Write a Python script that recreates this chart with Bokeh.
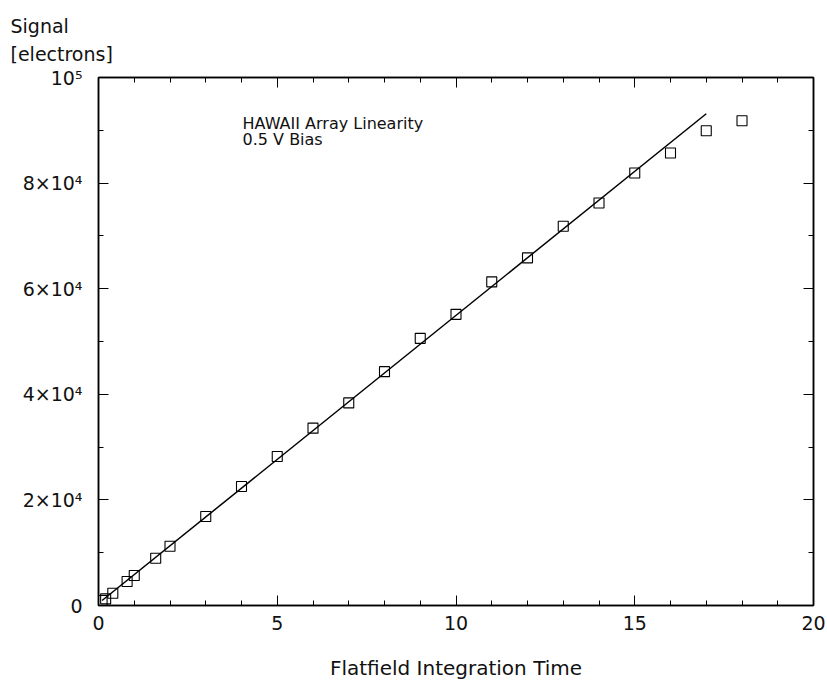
from bokeh.plotting import figure
from bokeh.models import (Range1d, SingleIntervalTicker, LinearAxis, Label,
                          CustomJSTickFormatter, Title)
from bokeh.embed import file_html
from bokeh.resources import INLINE

# ---- data ----
time_s = [0.1, 0.2, 0.4, 0.8, 1.0, 1.6, 2.0, 3, 4, 5, 6, 7, 8, 9, 10,
          11, 12, 13, 14, 15, 16, 17, 18]
signal_e = [950, 1260, 2330, 4540, 5670, 8940, 11210, 16850, 22550, 28220,
            33590, 38370, 44290, 50600, 55140, 61300, 65840, 71830, 76240,
            81910, 85690, 89920, 91810]
fit_x = [0.1, 17.0]
fit_y = [945, 93140]
y_tick_labels = {0: "0", 20000: "2×10⁴", 40000: "4×10⁴", 60000: "6×10⁴",
                 80000: "8×10⁴", 100000: "10⁵"}
title_lines = ["HAWAII Array Linearity", "0.5 V Bias"]
ylab_text = "Signal\n[electrons]"
xlab = "Flatfield Integration Time"

FONT = "DejaVu Sans"

p = figure(width=827, height=682, output_backend="svg", toolbar_location=None,
           x_range=Range1d(0, 20), y_range=Range1d(0, 100000),
           min_border_left=98, min_border_right=14, min_border_top=76,
           min_border_bottom=77)
p.xgrid.visible = False
p.ygrid.visible = False
p.outline_line_color = "black"
p.outline_line_width = 1.5
p.background_fill_color = "white"
p.border_fill_color = "white"

xt = SingleIntervalTicker(interval=5, num_minor_ticks=5)
yt = SingleIntervalTicker(interval=20000, num_minor_ticks=2)

def style_axis(ax):
    ax.axis_line_color = "black"
    ax.axis_line_width = 1.5
    ax.major_tick_in = 10
    ax.major_tick_out = 0
    ax.minor_tick_in = 5
    ax.minor_tick_out = 0
    ax.major_tick_line_color = "black"
    ax.minor_tick_line_color = "black"
    ax.major_label_text_font = FONT
    ax.major_label_text_color = "#111111"

xa = p.xaxis[0]
xa.ticker = xt
style_axis(xa)
xa.major_label_text_font_size = "19px"
xa.major_label_standoff = 10
xa.axis_label = xlab
xa.axis_label_text_font = FONT
xa.axis_label_text_font_size = "20px"
xa.axis_label_text_font_style = "normal"
xa.axis_label_standoff = 23
xa.axis_label_text_color = "#111111"

ya = p.yaxis[0]
ya.ticker = yt
style_axis(ya)
ya.major_label_text_font_size = "19px"
ya.major_label_standoff = 16
ya.major_label_overrides = y_tick_labels

blank = CustomJSTickFormatter(code="return ''")
top = LinearAxis(ticker=SingleIntervalTicker(interval=5, num_minor_ticks=5),
                 formatter=blank)
style_axis(top)
top.major_label_text_font_size = "0px"
top.major_label_standoff = 0
p.add_layout(top, "above")
right = LinearAxis(ticker=SingleIntervalTicker(interval=20000, num_minor_ticks=2),
                   formatter=blank)
style_axis(right)
right.major_label_text_font_size = "0px"
right.major_label_standoff = 0
p.add_layout(right, "right")

p.add_layout(Title(text=ylab_text, align="left", offset=-88,
                   text_font=FONT, text_font_size="19px",
                   text_font_style="normal", text_color="#111111",
                   text_line_height=1.3, standoff=24), "above")

p.line(fit_x, fit_y, line_color="black", line_width=1.5)
p.scatter(time_s, signal_e, marker="square", size=10, fill_color=None,
          line_color="black", line_width=1.1)

p.add_layout(Label(x=4.03, y=91300, text=title_lines[0], text_font=FONT,
                   text_font_size="16px", text_baseline="middle",
                   text_color="#111111"))
p.add_layout(Label(x=4.03, y=88200, text=title_lines[1], text_font=FONT,
                   text_font_size="16px", text_baseline="middle",
                   text_color="#111111"))

open("out.html", "w").write(file_html(p, INLINE))
